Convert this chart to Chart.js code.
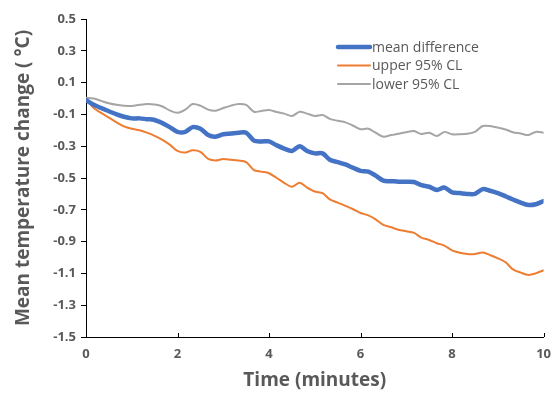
<!DOCTYPE html>
<html>
<head>
<meta charset="utf-8">
<script src="https://cdn.jsdelivr.net/npm/chart.js@4"></script>
<style>
  html, body { margin: 0; padding: 0; background: #fff; overflow: hidden; }
  #wrap { width: 560px; height: 396px; }
</style>
</head>
<body>
<div id="wrap"><canvas id="chart" width="560" height="396"></canvas></div>
<script>
// time in minutes (10 s samples)
const times = [0, 0.17, 0.33, 0.5, 0.67, 0.83, 1, 1.17, 1.33, 1.5, 1.67, 1.83, 2, 2.17, 2.33, 2.5, 2.67, 2.83, 3, 3.17, 3.33,
  3.5, 3.67, 3.83, 4, 4.17, 4.33, 4.5, 4.67, 4.83, 5, 5.17, 5.33, 5.5, 5.67, 5.83, 6, 6.17, 6.33, 6.5, 6.67, 6.83, 7,
  7.17, 7.33, 7.5, 7.67, 7.83, 8, 8.17, 8.33, 8.5, 8.67, 8.83, 9, 9.17, 9.33, 9.5, 9.67, 9.83, 10];

const meanDiff = [-0.01, -0.04, -0.06, -0.08, -0.1, -0.115, -0.125, -0.125, -0.13, -0.135, -0.155, -0.18, -0.21, -0.21,
  -0.18, -0.19, -0.23, -0.24, -0.225, -0.22, -0.215, -0.215, -0.265, -0.27, -0.27, -0.295, -0.315, -0.33, -0.3, -0.33,
  -0.345, -0.345, -0.385, -0.4, -0.415, -0.435, -0.455, -0.46, -0.485, -0.517, -0.52, -0.523, -0.523, -0.525, -0.545,
  -0.555, -0.575, -0.56, -0.59, -0.595, -0.6, -0.6, -0.57, -0.58, -0.595, -0.615, -0.635, -0.655, -0.67, -0.665, -0.645];

const upperCL = [0, -0.06, -0.09, -0.12, -0.15, -0.175, -0.19, -0.2, -0.215, -0.235, -0.26, -0.29, -0.33, -0.34, -0.325,
  -0.335, -0.38, -0.39, -0.38, -0.385, -0.39, -0.4, -0.45, -0.46, -0.47, -0.5, -0.53, -0.555, -0.53, -0.56, -0.585,
  -0.595, -0.635, -0.655, -0.675, -0.695, -0.72, -0.735, -0.76, -0.795, -0.81, -0.825, -0.835, -0.845, -0.875, -0.89,
  -0.91, -0.925, -0.955, -0.97, -0.978, -0.978, -0.968, -0.985, -1.005, -1.03, -1.075, -1.095, -1.11, -1.1, -1.08];

const lowerCL = [0.005, 0, -0.015, -0.03, -0.04, -0.045, -0.047, -0.04, -0.035, -0.038, -0.05, -0.075, -0.09, -0.07,
  -0.035, -0.045, -0.07, -0.077, -0.06, -0.045, -0.035, -0.04, -0.083, -0.078, -0.072, -0.085, -0.095, -0.11, -0.083,
  -0.095, -0.11, -0.104, -0.128, -0.14, -0.15, -0.17, -0.193, -0.19, -0.215, -0.24, -0.23, -0.222, -0.212, -0.205,
  -0.223, -0.215, -0.236, -0.21, -0.225, -0.225, -0.222, -0.21, -0.173, -0.173, -0.183, -0.195, -0.212, -0.22, -0.23,
  -0.21, -0.215];

const seriesNames = ['mean difference', 'upper 95% CL', 'lower 95% CL'];
const xTicks = [0, 2, 4, 6, 8, 10];
const yTicks = [0.5, 0.3, 0.1, -0.1, -0.3, -0.5, -0.7, -0.9, -1.1, -1.3, -1.5];

const textGray = '#595959';
const font = 'Open Sans';

function toPoints(vals) {
  return vals.map((v, i) => ({ x: times[i], y: v }));
}

// legend drawn inside the plot area, Excel style
const innerLegend = {
  id: 'innerLegend',
  afterDraw(chart) {
    const ctx = chart.ctx;
    const x0 = 338, x1 = 370, yStart = 47, gap = 18.5;
    ctx.save();
    ctx.font = '14px "' + font + '"';
    ctx.textBaseline = 'middle';
    ctx.textAlign = 'left';
    chart.data.datasets.forEach((ds, i) => {
      const y = yStart + i * gap;
      ctx.beginPath();
      ctx.moveTo(x0, y);
      ctx.lineTo(x1, y);
      ctx.lineWidth = ds.borderWidth;
      ctx.strokeStyle = ds.borderColor;
      ctx.lineCap = 'round';
      ctx.stroke();
      ctx.fillStyle = textGray;
      ctx.fillText(ds.label, x1 + 2, y + 1);
    });
    // small inward ticks on the x axis
    const xs = chart.scales.x;
    ctx.strokeStyle = '#000';
    ctx.lineWidth = 1;
    ctx.lineCap = 'butt';
    xTicks.forEach(t => {
      const px = Math.round(xs.getPixelForValue(t)) + 0.5;
      ctx.beginPath();
      ctx.moveTo(px, xs.top);
      ctx.lineTo(px, xs.top - 4);
      ctx.stroke();
    });
    ctx.restore();
  }
};

const ctx = document.getElementById('chart').getContext('2d');
new Chart(ctx, {
  type: 'line',
  data: {
    datasets: [
      { label: seriesNames[0], data: toPoints(meanDiff), borderColor: '#4472C4', borderWidth: 4.5 },
      { label: seriesNames[1], data: toPoints(upperCL), borderColor: '#ED7D31', borderWidth: 2 },
      { label: seriesNames[2], data: toPoints(lowerCL), borderColor: '#A5A5A5', borderWidth: 2 }
    ]
  },
  options: {
    responsive: false,
    animation: false,
    layout: { padding: { top: 19, right: 14, left: 0, bottom: 0 } },
    elements: {
      point: { radius: 0 },
      line: { tension: 0.3, borderCapStyle: 'round', borderJoinStyle: 'round' }
    },
    plugins: { legend: { display: false }, tooltip: { enabled: false } },
    scales: {
      x: {
        type: 'linear',
        min: 0,
        max: 10,
        afterBuildTicks: s => { s.ticks = xTicks.map(v => ({ value: v })); },
        afterFit: s => { s.height = 59; },
        grid: { display: true, drawOnChartArea: false, drawTicks: false },
        border: { color: '#000', width: 1 },
        ticks: {
          color: textGray,
          padding: 9,
          font: { family: font, size: 13, weight: 'bold' }
        },
        title: {
          display: true,
          text: 'Time (minutes)',
          color: textGray,
          padding: { top: 11 },
          font: { family: font, size: 19, weight: 'bold' }
        }
      },
      y: {
        min: -1.5,
        max: 0.5,
        afterBuildTicks: s => { s.ticks = yTicks.map(v => ({ value: v })); },
        afterFit: s => { s.width = 86; },
        grid: { display: true, drawOnChartArea: false, drawTicks: true, tickLength: 5, color: '#000' },
        border: { color: '#000', width: 1 },
        ticks: {
          color: textGray,
          padding: 5,
          callback: v => v.toFixed(1),
          font: { family: font, size: 13, weight: 'bold' }
        },
        title: {
          display: true,
          text: 'Mean temperature change ( °C)',
          color: textGray,
          padding: { top: 12, bottom: 4 },
          font: { family: font, size: 19, weight: 'bold' }
        }
      }
    }
  },
  plugins: [innerLegend]
});
</script>
</body>
</html>
